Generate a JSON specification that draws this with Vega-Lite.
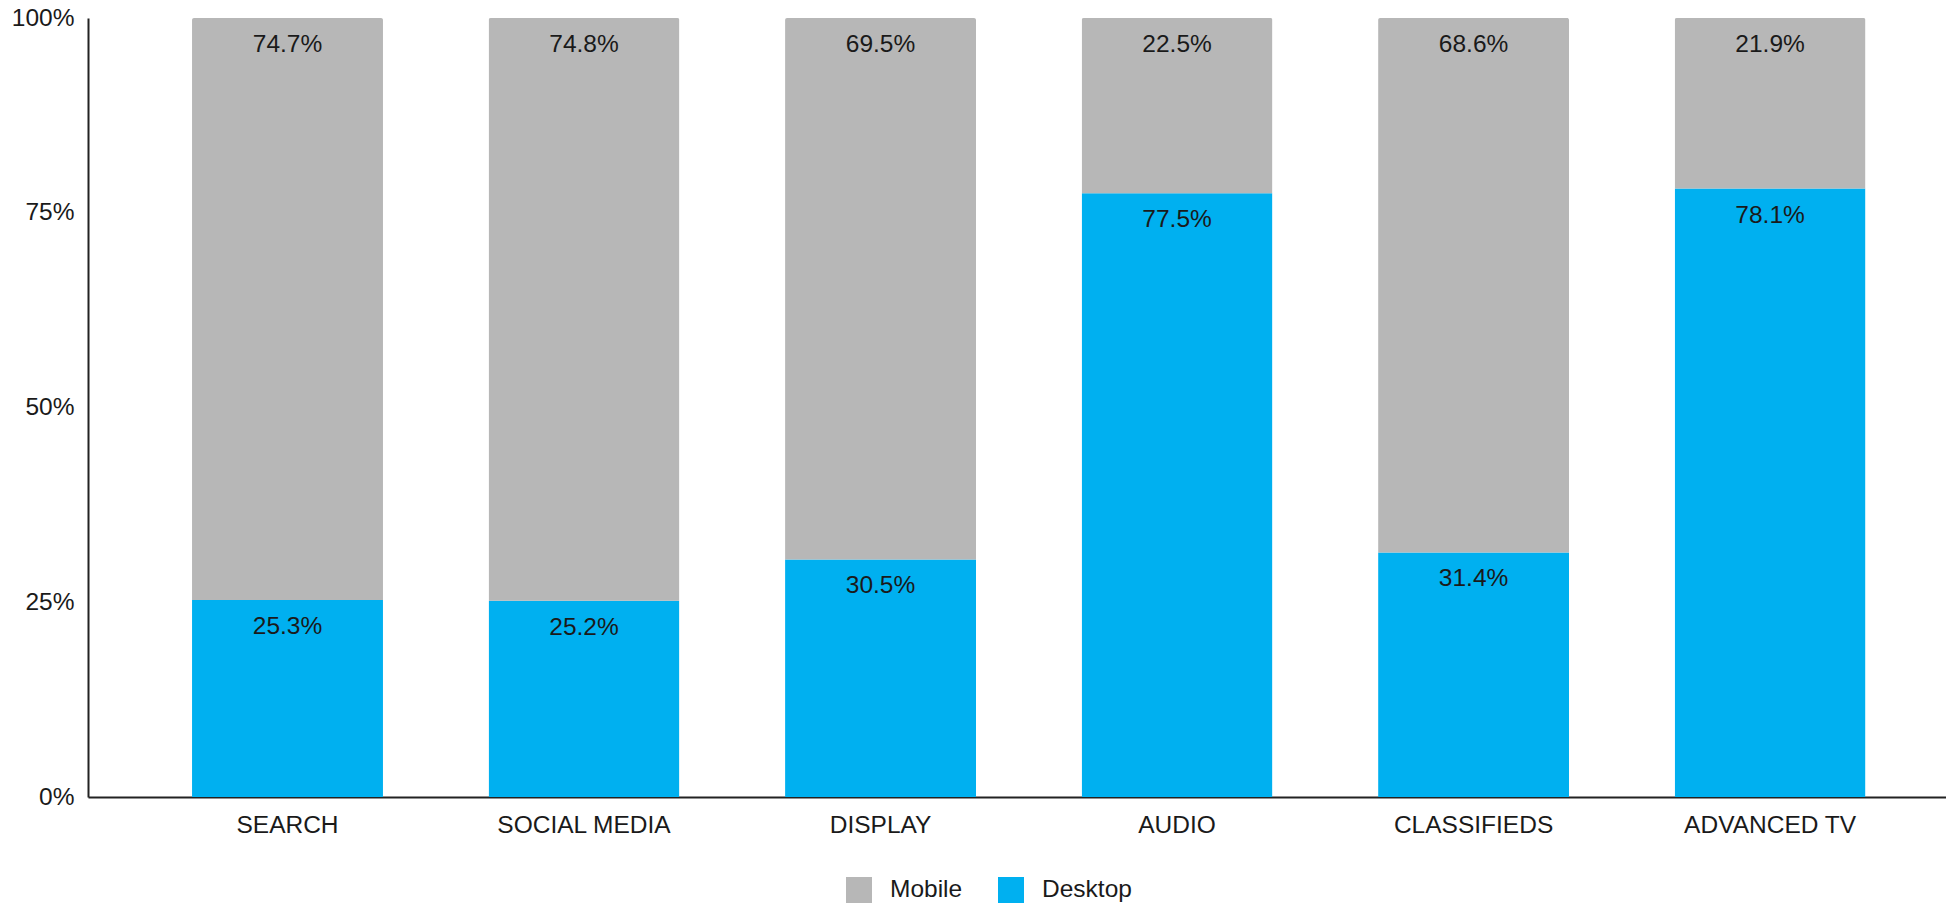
{
  "$schema": "https://vega.github.io/schema/vega-lite/v6.json",
  "width": 1858,
  "height": 779,
  "autosize": "none",
  "padding": {"left": 88, "top": 18, "right": 0, "bottom": 106},
  "background": "white",
  "config": {
    "view": {"stroke": null},
    "font": "Liberation Sans",
    "text": {"font": "Liberation Sans"}
  },
  "data": {
    "values": [
      {"channel": "SEARCH", "device": "Desktop", "share": 0.253, "ord": 1},
      {"channel": "SEARCH", "device": "Mobile", "share": 0.747, "ord": 2},
      {"channel": "SOCIAL MEDIA", "device": "Desktop", "share": 0.252, "ord": 1},
      {"channel": "SOCIAL MEDIA", "device": "Mobile", "share": 0.748, "ord": 2},
      {"channel": "DISPLAY", "device": "Desktop", "share": 0.305, "ord": 1},
      {"channel": "DISPLAY", "device": "Mobile", "share": 0.695, "ord": 2},
      {"channel": "AUDIO", "device": "Desktop", "share": 0.775, "ord": 1},
      {"channel": "AUDIO", "device": "Mobile", "share": 0.225, "ord": 2},
      {"channel": "CLASSIFIEDS", "device": "Desktop", "share": 0.314, "ord": 1},
      {"channel": "CLASSIFIEDS", "device": "Mobile", "share": 0.686, "ord": 2},
      {"channel": "ADVANCED TV", "device": "Desktop", "share": 0.781, "ord": 1},
      {"channel": "ADVANCED TV", "device": "Mobile", "share": 0.219, "ord": 2}
    ]
  },
  "encoding": {
    "x": {
      "field": "channel",
      "type": "nominal",
      "sort": null,
      "scale": {"paddingInner": 0.356, "paddingOuter": 0.311, "align": 0.564},
      "axis": {
        "title": null,
        "labelAngle": 0,
        "labelFontSize": 24.5,
        "labelColor": "#1a1a1a",
        "labelFont": "Liberation Sans",
        "labelPadding": 16,
        "ticks": false,
        "domainColor": "#222222",
        "domainWidth": 2,
        "grid": false
      }
    },
    "y": {
      "field": "share",
      "type": "quantitative",
      "stack": "zero",
      "scale": {"domain": [0, 1], "nice": false},
      "axis": {
        "title": null,
        "format": "%",
        "values": [0, 0.25, 0.5, 0.75, 1],
        "labelFontSize": 24.5,
        "labelColor": "#1a1a1a",
        "labelFont": "Liberation Sans",
        "labelPadding": 14,
        "ticks": false,
        "grid": false,
        "domainColor": "#222222",
        "domainWidth": 2
      }
    },
    "order": {"field": "ord", "type": "quantitative"}
  },
  "layer": [
    {
      "mark": {"type": "bar", "cornerRadiusTopLeft": 2, "cornerRadiusTopRight": 2},
      "encoding": {
        "color": {
          "field": "device",
          "type": "nominal",
          "scale": {"domain": ["Mobile", "Desktop"], "range": ["#b7b7b7", "#00b0f0"]},
          "legend": {
            "title": null,
            "orient": "none",
            "direction": "horizontal",
            "legendX": 758,
            "legendY": 859,
            "padding": 0,
            "symbolType": "square",
            "symbolSize": 676,
            "symbolStrokeWidth": 0,
            "labelFontSize": 24.5,
            "labelFont": "Liberation Sans",
            "labelColor": "#1a1a1a",
            "labelOffset": 18,
            "columnPadding": 35
          }
        }
      }
    },
    {
      "mark": {"type": "text", "dy": 27, "fontSize": 24.5, "color": "#1a1a1a", "font": "Liberation Sans", "baseline": "middle"},
      "encoding": {
        "text": {"field": "share", "type": "quantitative", "format": ".1%"}
      }
    }
  ]
}
